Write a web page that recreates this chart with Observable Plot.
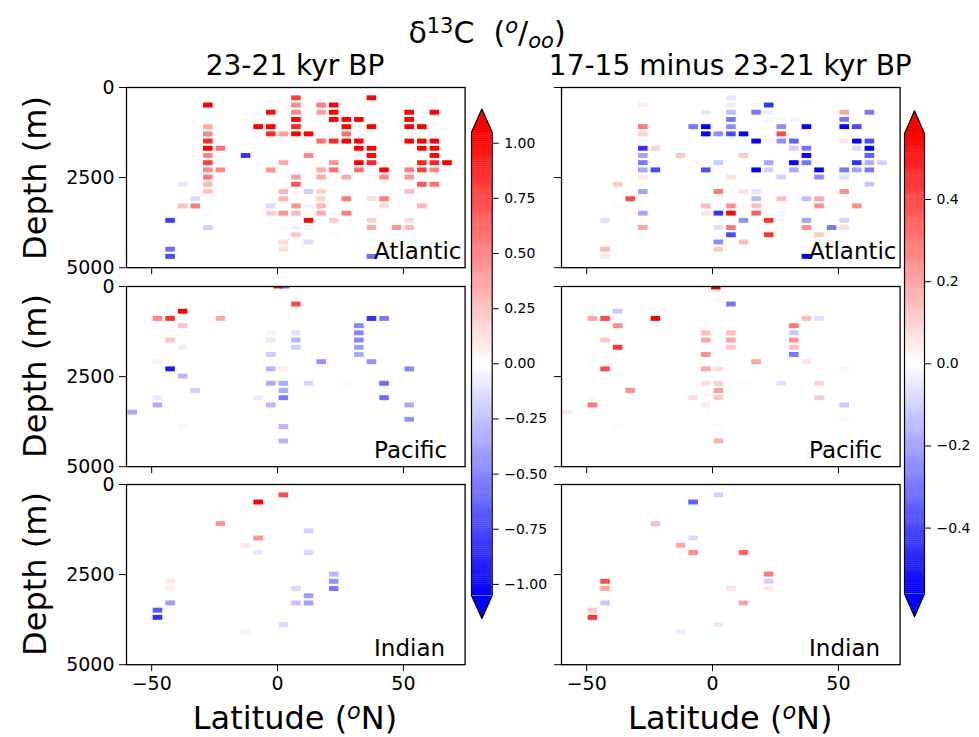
<!DOCTYPE html>
<html><head><meta charset="utf-8">
<script src="https://cdn.jsdelivr.net/npm/d3@7"></script>
<script src="https://cdn.jsdelivr.net/npm/@observablehq/plot@0.6"></script>
<style>
html,body{margin:0;padding:0;background:#fff;overflow:hidden;}
#fig{position:relative;width:979px;height:737px;overflow:hidden;background:#fff;font-family:"DejaVu Sans",sans-serif;color:#000;}
.lbl{position:absolute;white-space:nowrap;line-height:1;font-family:"DejaVu Sans",sans-serif;color:#000;}
.lbl .sp{position:relative;top:-0.45em;font-size:0.7em;}
.lbl .sb{position:relative;top:0.25em;font-size:0.7em;}
</style></head><body><div id="fig"></div>
<script>
// ---------------- DATA ----------------
// each entry: [latitude (°N), depth (m), δ13C value]
const columnTitles = ["23-21 kyr BP", "17-15 minus 23-21 kyr BP"];
const basins = ["Atlantic", "Pacific", "Indian"];
const latTicks = [-50, 0, 50];
const depthTicks = [0, 2500, 5000];
const cbTicksLGM = [-1, -0.75, -0.5, -0.25, 0, 0.25, 0.5, 0.75, 1];
const cbTicksDiff = [-0.4, -0.2, 0, 0.2, 0.4];
const limLGM = 1.05;
const limDiff = 0.56;

const atlanticLGM = [
 [7.5,300,0.8],[37.5,300,1.1],
 [-27.5,500,1.1],[7.5,500,0.5],[17.5,500,0.55],[22.5,500,1.1],
 [-2.5,700,1.0],[7.5,700,0.5],[17.5,700,0.4],[22.5,700,1.1],[52.5,700,1.1],[62.5,700,1.1],
 [7.5,900,1.1],[22.5,900,1.1],[27.5,900,1.1],[32.5,900,1.1],[52.5,900,1.1],
 [-27.5,1100,0.35],[-7.5,1100,1.1],[-2.5,1100,1.1],[7.5,1100,0.9],[27.5,1100,1.1],[37.5,1100,1.1],[52.5,1100,1.1],[57.5,1100,1.1],
 [-27.5,1300,0.5],[-2.5,1300,0.9],[2.5,1300,0.4],[7.5,1300,1.1],[12.5,1300,1.1],[27.5,1300,0.6],
 [-27.5,1500,0.9],[17.5,1500,0.6],[22.5,1500,0.9],[27.5,1500,1.1],[32.5,1500,1.1],[52.5,1500,1.1],[57.5,1500,1.1],[62.5,1500,1.1],
 [-27.5,1700,1.1],[-22.5,1700,0.6],[32.5,1700,1.1],[37.5,1700,1.1],[57.5,1700,1.1],[62.5,1700,1.1],
 [-27.5,1900,0.5],[-12.5,1900,-0.85],[12.5,1900,0.5],[37.5,1900,1.1],[62.5,1900,1.1],
 [-27.5,2100,0.8],[2.5,2100,0.35],[22.5,2100,0.45],[32.5,2100,1.1],[37.5,2100,0.9],[57.5,2100,0.9],[62.5,2100,0.9],[67.5,2100,1.1],
 [-27.5,2300,0.5],[-22.5,2300,0.5],[-2.5,2300,0.45],[17.5,2300,0.35],[22.5,2300,0.6],[32.5,2300,0.6],[42.5,2300,1.1],[52.5,2300,0.55],[57.5,2300,0.8],[62.5,2300,0.5],
 [-27.5,2500,0.55],[7.5,2500,0.4],[17.5,2500,0.35],[27.5,2500,0.35],[42.5,2500,0.5],[52.5,2500,0.45],
 [-37.5,2700,-0.1],[-27.5,2700,0.3],[7.5,2700,0.7],[57.5,2700,0.7],[62.5,2700,0.6],
 [-27.5,2900,0.25],[2.5,2900,0.3],[12.5,2900,-0.2],[17.5,2900,0.2],[52.5,2900,0.25],
 [-32.5,3100,-0.15],[2.5,3100,0.3],[17.5,3100,0.2],[27.5,3100,0.55],[37.5,3100,0.15],[42.5,3100,0.55],
 [-37.5,3300,0.25],[-32.5,3300,0.55],[-2.5,3300,-0.15],[7.5,3300,0.45],[12.5,3300,-0.05],[17.5,3300,0.3],[42.5,3300,0.15],[57.5,3300,0.3],
 [-27.5,3500,0.03],[-2.5,3500,0.2],[2.5,3500,0.45],[7.5,3500,0.3],[17.5,3500,0.35],[27.5,3500,0.55],
 [-42.5,3700,-0.8],[12.5,3700,1.1],[22.5,3700,0.2],[37.5,3700,0.2],[52.5,3700,0.15],
 [-27.5,3900,-0.2],[2.5,3900,0.03],[7.5,3900,-0.07],[12.5,3900,-0.05],[37.5,3900,0.35],[47.5,3900,0.45],[52.5,3900,0.3],
 [7.5,4100,0.25],[22.5,4100,0.02],[42.5,4100,0.02],
 [2.5,4300,0.15],[12.5,4300,-0.15],
 [-42.5,4500,-0.6],[2.5,4500,0.15],
 [-42.5,4700,-0.75],[37.5,4700,-0.6]
];
const pacificLGM = [
 [3,0,-0.6],[0.5,0,1.1],
 [7.5,500,0.75],
 [-37.5,700,1.1],
 [-47.5,900,0.5],[-42.5,900,0.85],[-22.5,900,0.35],[37.5,900,-0.85],[42.5,900,-0.55],
 [-37.5,1100,0.25],[32.5,1100,-0.5],
 [-2.5,1300,-0.05],[7.5,1300,-0.12],[32.5,1300,-0.5],
 [-42.5,1500,0.25],[-2.5,1500,-0.1],[7.5,1500,-0.3],[32.5,1500,-0.5],
 [-37.5,1700,-0.07],[7.5,1700,-0.2],[32.5,1700,-0.4],
 [-2.5,1900,-0.2],[32.5,1900,-0.35],
 [-47.5,2100,0.07],[17.5,2100,-0.45],[37.5,2100,-0.45],
 [-42.5,2300,-0.95],[-2.5,2300,-0.3],[2.5,2300,0.08],[52.5,2300,-0.5],
 [-37.5,2500,-0.3],
 [-2.5,2700,-0.35],[2.5,2700,-0.35],[12.5,2700,-0.17],[27.5,2700,0.02],[42.5,2700,-0.6],
 [-32.5,2900,-0.2],[2.5,2900,-0.35],
 [-47.5,3100,-0.08],[-7.5,3100,-0.08],[2.5,3100,-0.55],[42.5,3100,-0.6],
 [-47.5,3300,-0.35],[-2.5,3300,-0.3],[52.5,3300,-0.35],
 [-57.5,3500,-0.35],
 [52.5,3700,-0.45],
 [-37.5,3900,0.03],[2.5,3900,-0.3],
 [2.5,4300,-0.3]
];
const indianLGM = [
 [2.5,300,0.75],[-7.5,500,1.1],[-22.5,1100,0.45],[12.5,1300,-0.2],[-7.5,1500,0.45],
 [-12.5,1700,0.1],[-7.5,1900,-0.1],[12.5,1900,-0.17],[22.5,2500,-0.3],[-42.5,2700,0.1],
 [22.5,2700,-0.45],[-42.5,2900,0.07],[7.5,2900,-0.15],[22.5,2900,-0.55],[12.5,3100,-0.4],
 [-42.5,3300,-0.4],[7.5,3300,-0.25],[12.5,3300,-0.4],[-47.5,3500,-0.7],[-47.5,3700,-0.85],
 [2.5,3900,-0.15],[-12.5,4100,-0.05]
];
const atlanticDiff = [
 [7.5,300,-0.06],[37.5,300,-0.005],
 [-27.5,500,0.04],[7.5,500,-0.04],[17.5,500,0.02],[22.5,500,-0.45],
 [-2.5,700,-0.05],[7.5,700,-0.15],[17.5,700,-0.3],[22.5,700,-0.04],[52.5,700,0.2],[62.5,700,-0.3],
 [7.5,900,-0.3],[22.5,900,-0.02],[27.5,900,-0.02],[32.5,900,-0.02],[52.5,900,-0.3],
 [-27.5,1100,0.3],[-7.5,1100,-0.3],[-2.5,1100,-0.6],[7.5,1100,-0.25],[27.5,1100,-0.25],[37.5,1100,-0.55],[52.5,1100,-0.55],[57.5,1100,-0.4],
 [-27.5,1300,0.1],[-2.5,1300,-0.6],[2.5,1300,-0.25],[7.5,1300,-0.4],[12.5,1300,-0.55],[27.5,1300,0.4],
 [-27.5,1500,-0.01],[17.5,1500,-0.55],[22.5,1500,0.02],[27.5,1500,-0.25],[32.5,1500,-0.35],[52.5,1500,0.06],[57.5,1500,-0.55],[62.5,1500,-0.4],
 [-27.5,1700,-0.45],[-22.5,1700,0.1],[32.5,1700,-0.1],[37.5,1700,-0.3],[57.5,1700,-0.08],[62.5,1700,-0.6],
 [-27.5,1900,-0.2],[-12.5,1900,0.12],[12.5,1900,0.12],[37.5,1900,-0.6],[62.5,1900,-0.35],
 [-27.5,2100,-0.3],[2.5,2100,-0.12],[22.5,2100,-0.2],[32.5,2100,-0.55],[37.5,2100,-0.3],[57.5,2100,-0.45],[62.5,2100,-0.18],[67.5,2100,-0.1],
 [-27.5,2300,-0.2],[-22.5,2300,-0.4],[-2.5,2300,-0.4],[17.5,2300,-0.55],[22.5,2300,-0.1],[32.5,2300,-0.18],[42.5,2300,-0.55],[52.5,2300,-0.3],[57.5,2300,-0.2],[62.5,2300,-0.3],
 [-27.5,2500,0.05],[7.5,2500,0.07],[17.5,2500,-0.01],[27.5,2500,-0.1],[42.5,2500,-0.25],[52.5,2500,-0.07],
 [-37.5,2700,0.12],[-27.5,2700,0.01],[62.5,2700,-0.12],
 [-27.5,2900,-0.2],[2.5,2900,0.3],[12.5,2900,0.07],[17.5,2900,-0.06],[52.5,2900,0.25],
 [-32.5,3100,0.4],[2.5,3100,-0.01],[17.5,3100,-0.15],[27.5,3100,0.15],[37.5,3100,-0.15],[42.5,3100,0.2],
 [-37.5,3300,0.01],[-2.5,3300,0.15],[7.5,3300,0.25],[12.5,3300,-0.01],[17.5,3300,0.15],[42.5,3300,0.25],[57.5,3300,0.25],
 [-27.5,3500,-0.2],[-2.5,3500,0.06],[2.5,3500,-0.45],[7.5,3500,0.55],[17.5,3500,0.35],[27.5,3500,-0.02],
 [-42.5,3700,-0.07],[12.5,3700,-0.25],[22.5,3700,0.45],[37.5,3700,-0.2],[52.5,3700,-0.1],
 [-27.5,3900,0.2],[2.5,3900,-0.07],[7.5,3900,0.3],[37.5,3900,0.25],[47.5,3900,-0.3],[52.5,3900,0.08],
 [7.5,4100,-0.4],[22.5,4100,0.45],[42.5,4100,0.12],
 [2.5,4300,-0.25],[12.5,4300,0.15],
 [-42.5,4500,0.15],[2.5,4500,0.12],
 [-42.5,4700,0.05],[37.5,4700,-0.56]
];
const pacificDiff = [
 [1.5,30,0.6],
 [7.5,500,-0.3],
 [-37.5,700,-0.12],
 [-47.5,900,0.2],[-42.5,900,0.4],[-22.5,900,0.56],[37.5,900,0.15],[42.5,900,-0.07],
 [-37.5,1100,0.25],[32.5,1100,0.3],
 [-2.5,1300,0.15],[7.5,1300,0.15],[32.5,1300,-0.12],
 [-42.5,1500,0.12],[-2.5,1500,0.2],[7.5,1500,0.2],[32.5,1500,0.25],
 [-37.5,1700,0.45],[7.5,1700,0.12],[32.5,1700,0.15],
 [-2.5,1900,0.25],[32.5,1900,-0.3],
 [-47.5,2100,-0.01],[17.5,2100,0.2],[37.5,2100,0.07],
 [-42.5,2300,0.4],[-2.5,2300,0.2],[2.5,2300,0.08],[52.5,2300,-0.02],
 [-37.5,2500,-0.01],
 [-2.5,2700,0.07],[2.5,2700,0.1],[12.5,2700,0.01],[27.5,2700,-0.07],[42.5,2700,0.1],
 [-32.5,2900,0.25],[2.5,2900,0.22],
 [-47.5,3100,-0.01],[-7.5,3100,0.08],[2.5,3100,0.12],[42.5,3100,0.12],
 [-47.5,3300,0.3],[-2.5,3300,0.05],[52.5,3300,-0.12],
 [-57.5,3500,0.05],
 [52.5,3700,0.02],
 [-37.5,3900,-0.01],[2.5,3900,0.01],
 [2.5,4300,0.18]
];
const indianDiff = [
 [2.5,300,-0.1],[-7.5,500,-0.35],[-22.5,1100,0.15],[-7.5,1500,-0.08],[-12.5,1700,0.2],
 [-7.5,1900,0.25],[12.5,1900,0.35],[22.5,2500,0.3],[-42.5,2700,0.4],[22.5,2700,-0.1],
 [-42.5,2900,0.2],[7.5,2900,0.07],[22.5,2900,0.05],[-42.5,3300,-0.12],[12.5,3300,0.2],
 [-47.5,3500,0.12],[-47.5,3700,0.45],[2.5,3900,0.06],[-12.5,4100,-0.04]
];

// ---------------- LAYOUT ----------------
const fig = document.getElementById("fig");
const FONT = "DejaVu Sans";
const FRAME_W = 338.6, FRAME_H = 180.2;
const colX = [125.7, 561];
const rowY = [87.4, 285.7, 483.5];
const latDomain = [-60, 74.5];
const depthDomain = [0, 5000];
const cellHalfW = 1.9, cellHalfH = 68;

function colorScale(lim) {
  return {type: "linear", domain: [-lim, 0, lim], range: ["#0000ff", "#ffffff", "#ff0000"], interpolate: "rgb", clamp: true};
}
function place(node, left, top) {
  node.style.position = "absolute";
  node.style.left = left + "px";
  node.style.top = top + "px";
  fig.appendChild(node);
}
function label(html, x, baseline, size, opts = {}) {
  const d = document.createElement("div");
  d.className = "lbl";
  d.innerHTML = html;
  d.style.fontSize = size + "px";
  d.style.left = x + "px";
  if (opts.rotate) {
    d.style.top = baseline + "px";
    d.style.transform = "translate(-50%,-50%) rotate(-90deg)";
  } else {
    d.style.top = (baseline - 0.846 * size) + "px";
    d.style.transform = "translateX(-50%)";
  }
  fig.appendChild(d);
}

function panel(rows, basin, col, row, lim) {
  const mL = col === 0 ? 100 : 14, mR = 12, mT = 14, mB = row === 2 ? 44 : 14;
  const svg = Plot.plot({
    width: FRAME_W + mL + mR, height: FRAME_H + mT + mB,
    marginLeft: mL, marginRight: mR, marginTop: mT, marginBottom: mB,
    style: {fontFamily: FONT, fontSize: "19px", background: "transparent", overflow: "visible", color: "black"},
    x: {domain: latDomain, ticks: latTicks, tickSize: 7, tickPadding: 5,
        tickFormat: row === 2 ? (d => d3.format("d")(d)) : (() => ""), label: null},
    y: {domain: depthDomain, reverse: true, ticks: depthTicks, tickSize: 7, tickPadding: 5,
        tickFormat: col === 0 ? "d" : (() => ""), label: null},
    color: colorScale(lim),
    marks: [
      Plot.rect(rows, {x1: d => d[0] - cellHalfW, x2: d => d[0] + cellHalfW,
                       y1: d => d[1] - cellHalfH, y2: d => d[1] + cellHalfH,
                       fill: d => d[2], clip: true}),
      Plot.text([basin], {frameAnchor: "bottom-right", text: d => d, textAnchor: "start",
                          lineAnchor: "bottom", dx: -91, dy: -9, fontSize: 23, fill: "black"}),
      Plot.frame({stroke: "black", strokeWidth: 1.3})
    ]
  });
  place(svg, colX[col] - mL, rowY[row] - mT);
}

function colorbar(lim, ticks, fmt, bodyLeft, bodyW, bodyTop, bodyBottom) {
  const mL = 2, mR = 70, top = 100, H = 530;
  const n = 240, step = 2 * lim / n;
  const strips = d3.range(n).map(i => -lim + (i + 0.5) * step);
  const ext = 0.05 * 2 * lim;
  const outline = [[0, -lim], [0.5, -lim - ext], [1, -lim], [1, lim], [0.5, lim + ext], [0, lim], [0, -lim]];
  const svg = Plot.plot({
    width: mL + bodyW + mR, height: H,
    marginLeft: mL, marginRight: mR, marginTop: bodyTop - top, marginBottom: top + H - bodyBottom,
    style: {fontFamily: FONT, fontSize: "14px", background: "transparent", overflow: "visible", color: "black"},
    x: {domain: [0, 1], axis: null},
    y: {domain: [-lim, lim], ticks, tickFormat: fmt, tickSize: 6, tickPadding: 6, axis: "right", label: null},
    color: colorScale(lim),
    marks: [
      Plot.rect(strips, {x1: 0, x2: 1, y1: d => d - step * 0.6, y2: d => d + step * 0.6, fill: d => d}),
      Plot.line([[0, lim], [0.5, lim + ext], [1, lim], [0, lim]], {x: d => d[0], y: d => d[1], fill: "#ff0000", stroke: "none"}),
      Plot.line([[0, -lim], [0.5, -lim - ext], [1, -lim], [0, -lim]], {x: d => d[0], y: d => d[1], fill: "#0000ff", stroke: "none"}),
      Plot.line(outline, {x: d => d[0], y: d => d[1], stroke: "black", strokeWidth: 1.2})
    ]
  });
  place(svg, bodyLeft - mL, top);
}

// panels
const leftData = [atlanticLGM, pacificLGM, indianLGM];
const rightData = [atlanticDiff, pacificDiff, indianDiff];
basins.forEach((b, i) => {
  panel(leftData[i], b, 0, i, limLGM);
  panel(rightData[i], b, 1, i, limDiff);
});

// colorbars
colorbar(limLGM, cbTicksLGM, ".2f", 471, 20.7, 131.7, 595);
colorbar(limDiff, cbTicksDiff, ".1f", 904.3, 20, 133.3, 593.3);

// texts
label('δ<span class="sp">13</span>C&nbsp;&nbsp;(<span class="sp"><i>o</i></span>/<span class="sb"><i>oo</i></span>)', 487, 43, 30);
label(columnTitles[0], colX[0] + FRAME_W / 2, 76, 28);
label(columnTitles[1], colX[1] + FRAME_W / 2, 76, 28);
rowY.forEach(y => label("Depth (m)", 35, y + FRAME_H / 2, 32, {rotate: true}));
colX.forEach(x => label('Latitude (<span class="sp"><i>o</i></span>N)', x + FRAME_W / 2, 729, 32));
</script></body></html>
